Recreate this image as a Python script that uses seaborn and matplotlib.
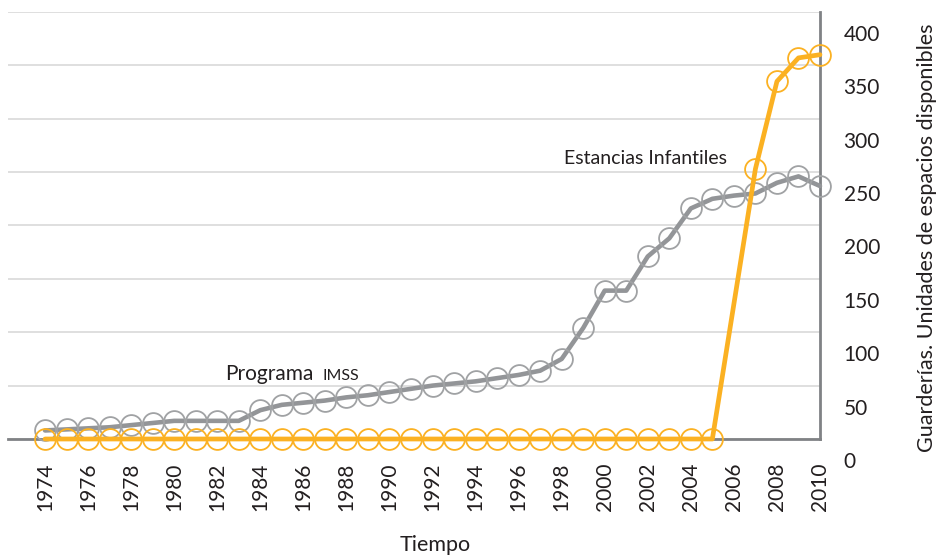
import numpy as np
import pandas as pd
import seaborn as sns
import matplotlib.pyplot as plt
from matplotlib.transforms import ScaledTranslation

years = [1974, 1975, 1976, 1977, 1978, 1979, 1980, 1981, 1982, 1983,
         1984, 1985, 1986, 1987, 1988, 1989, 1990, 1991, 1992, 1993,
         1994, 1995, 1996, 1997, 1998, 1999, 2000, 2001, 2002, 2003,
         2004, 2005, 2006, 2007, 2008, 2009, 2010]
imss = [8, 9, 10, 11, 13, 15, 17, 17, 17, 17,
        27, 32, 34, 36, 39, 41, 44, 47, 50, 52,
        54, 57, 60, 64, 75, 104, 139, 139, 171, 188,
        216, 225, 228, 230, 240, 246, 237]
estancias = [0, 0, 0, 0, 0, 0, 0, 0, 0, 0,
             0, 0, 0, 0, 0, 0, 0, 0, 0, 0,
             0, 0, 0, 0, 0, 0, 0, 0, 0, 0,
             0, 0, np.nan, 253, 335, 357, 360]
xticks = [1974, 1976, 1978, 1980, 1982, 1984, 1986, 1988, 1990, 1992,
          1994, 1996, 1998, 2000, 2002, 2004, 2006, 2008, 2010]
yticks = [0, 50, 100, 150, 200, 250, 300, 350, 400]

GRAY = '#939598'
ORANGE = '#FBB122'
TXT = '#231F20'

sns.set_theme(style='white')
plt.rcParams['font.family'] = ['Lato', 'DejaVu Sans']

df = pd.DataFrame({'year': years, 'imss': imss, 'estancias': estancias})

fig = plt.figure(figsize=(9.38, 5.58), dpi=100)
ax = fig.add_axes([8 / 938, 1 - 439 / 558, 812 / 938, 427 / 558])

sns.lineplot(data=df, x='year', y='imss', ax=ax, color=GRAY, lw=3.3,
             marker='o', ms=15, mfc='none', mec='#A0A2A4', mew=1.3,
             zorder=3, clip_on=False)
d2 = df.dropna(subset=['estancias'])
sns.lineplot(data=d2, x='year', y='estancias', ax=ax, color=ORANGE, lw=3.4,
             marker='o', ms=15, mfc='none', mec=ORANGE, mew=1.3,
             zorder=4, clip_on=False)

ax.set_xlim(1972.28, 2010)
ax.set_ylim(0, 400)
ax.set_xticks(xticks)
ax.set_xticklabels([str(v) for v in xticks], rotation=90, fontsize=15,
                   color=TXT)
ax.set_yticks(yticks)
ax.set_yticklabels([str(v) for v in yticks], fontsize=15, color=TXT)
ax.yaxis.tick_right()
ax.tick_params(axis='x', length=0, pad=17)
ax.tick_params(axis='y', length=0, pad=17)
# the value labels sit lower than their gridlines in the original
shift = ScaledTranslation(0, -21 / 100, fig.dpi_scale_trans)
for lab in ax.get_yticklabels():
    lab.set_transform(lab.get_transform() + shift)

ax.grid(axis='y', color='#D9D9D9', lw=1.2)
ax.grid(axis='x', visible=False)
for s in ['left', 'top']:
    ax.spines[s].set_visible(False)
for s in ['right', 'bottom']:
    ax.spines[s].set_color('#808285')
    ax.spines[s].set_linewidth(2)

ax.set_xlabel('')
ax.set_ylabel('')
fig.text(435 / 938, 1 - 545 / 558, 'Tiempo', fontsize=15.5, color=TXT,
         ha='center', va='center')
fig.text(927 / 938, 1 - 238 / 558,
         'Guarderías. Unidades de espacios disponibles', fontsize=15.5,
         color=TXT, rotation=90, ha='center', va='center')

ax.text(2001.9, 263, 'Estancias Infantiles', fontsize=14, color=TXT,
        ha='center', va='center')
ax.text(1982.36, 55, 'Programa', fontsize=15, color=TXT, va='baseline')
ax.text(1986.87, 55, 'IMSS', fontsize=11.5, color=TXT, va='baseline')

fig.savefig('out.png', dpi=100)
